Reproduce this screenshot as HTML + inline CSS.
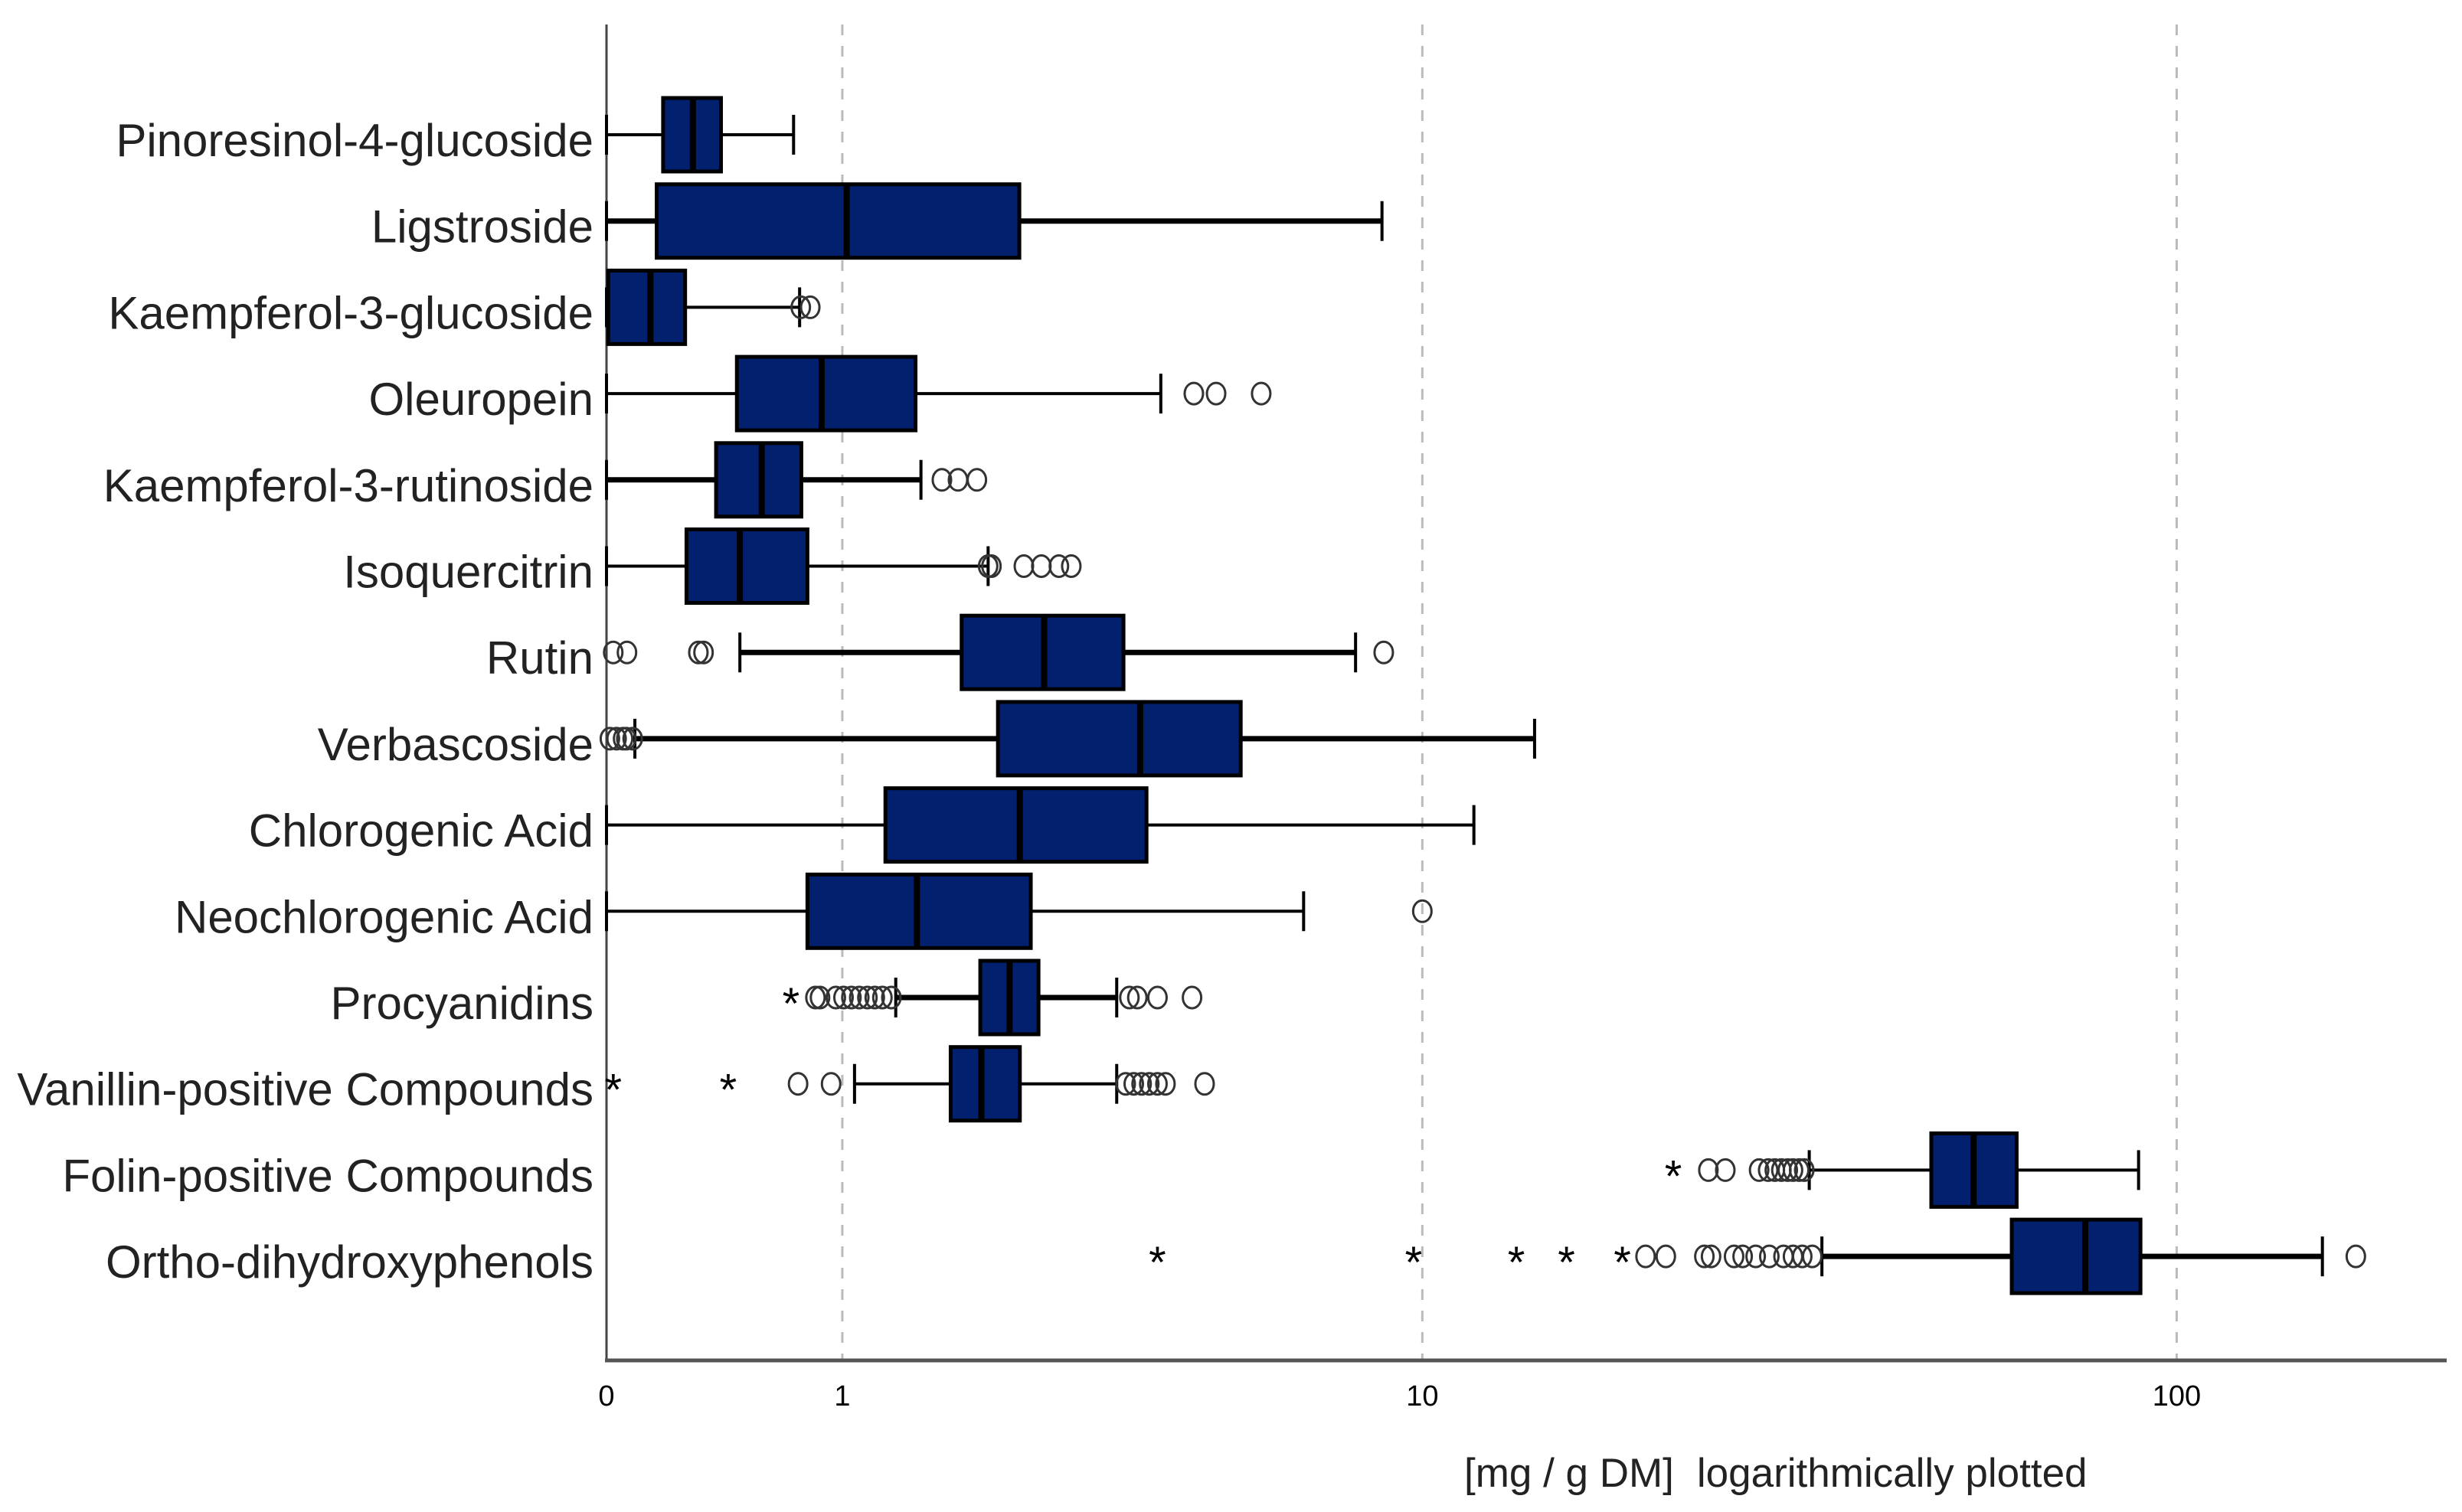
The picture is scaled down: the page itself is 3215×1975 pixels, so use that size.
<!DOCTYPE html>
<html><head><meta charset="utf-8"><style>
html,body{margin:0;padding:0;background:#fff;}
svg{display:block;}
</style></head><body>
<svg id="chart" width="3215" height="1975" viewBox="0 0 3215 1975" xmlns="http://www.w3.org/2000/svg" font-family="Liberation Sans, sans-serif"></svg>
<script>
const categories=["Pinoresinol-4-glucoside","Ligstroside","Kaempferol-3-glucoside","Oleuropein","Kaempferol-3-rutinoside","Isoquercitrin","Rutin","Verbascoside","Chlorogenic Acid","Neochlorogenic Acid","Procyanidins","Vanillin-positive Compounds","Folin-positive Compounds","Ortho-dihydroxyphenols"];
const whiskerLow=[0,0,0,0,0,0,0.48,0.087,0,0,1.34,1.073,33.3,34.6];
const q1=[0.181,0.159,0.005,0.467,0.38,0.265,1.84,2.16,1.27,0.805,2.0,1.75,48.1,61.2];
const median=[0.289,1.026,0.138,0.882,0.578,0.48,2.62,3.8,2.37,1.49,2.27,2.01,54.6,76.2];
const q3=[0.40,2.365,0.26,1.48,0.773,0.805,3.57,5.45,3.89,2.48,2.56,2.37,62.1,89.8];
const whiskerHigh=[0.733,8.77,0.764,4.1,1.52,2.07,8.04,14.3,11.8,6.76,3.48,3.48,89.3,154];
const outliers=[[],[],[0.77,0.82],[4.62,5.0,5.85],[1.68,1.81,1.97],[2.07,2.1,2.41,2.59,2.78,2.92],[0.02,0.062,0.31,0.33,8.82],[0.01,0.03,0.05,0.06,0.08],[],[10],[0.848,0.873,0.962,1.007,1.054,1.102,1.153,1.2,1.25,1.31,3.65,3.76,4.05,4.59],[0.756,0.935,3.6,3.71,3.82,3.93,4.05,4.17,4.8],[24.5,25.8,28.6,29.4,30.0,30.6,31.2,31.7,32.3,32.8],[20.2,21.5,24.2,24.7,26.5,27.2,28.3,29.5,30.8,31.7,32.6,33.6,170]];
const extremes=[[],[],[],[],[],[],[],[],[],[],[0.72],[0.02,0.43],[22.0],[4.05,9.72,13.5,15.8,18.8]];
const thick=[false,true,false,false,true,false,true,true,false,false,true,false,false,true];
const tickValues=[0,1,10,100];
const tickLabels=["0","1","10","100"];

const NS="http://www.w3.org/2000/svg";
const svg=document.getElementById('chart');
const X0=792,K=1023,TOP=32,BOT=1777,RIGHT=3195,ROW0=176,ROWSTEP=112.7,BOXH=96;
function xs(v){return X0+K*Math.log10(v+1);}
function ys(i){return ROW0+i*ROWSTEP;}
function mk(tag,attrs,parent){const e=document.createElementNS(NS,tag);for(const k in attrs)e.setAttribute(k,attrs[k]);(parent||svg).appendChild(e);return e;}

tickValues.forEach((v,i)=>{
  if(v>0){
    const g=mk('line',{x1:xs(v),x2:xs(v),y1:TOP,y2:BOT,stroke:'#bbb','stroke-width':3,'stroke-dasharray':'14 14'});
    
    
  }
  const t=mk('text',{x:xs(v),y:1836,'font-size':38,'text-anchor':'middle',fill:'#000'});
  t.textContent=tickLabels[i];
  
  
});

const ya=mk('line',{x1:X0,x2:X0,y1:TOP,y2:BOT,stroke:'#444','stroke-width':3});


const xa=mk('line',{x1:X0-2,x2:RIGHT,y1:BOT,y2:BOT,stroke:'#555','stroke-width':5});



categories.forEach((c,i)=>{
  const y=ys(i);
  const g=mk('g',{});
  
  
  const lab=mk('text',{x:775,y:y+28,'font-size':60,'text-anchor':'end',fill:'#222'},g);
  lab.textContent=c;
  
  
  const sw=thick[i]?7:4;
  const w=mk('line',{x1:xs(whiskerLow[i]),x2:xs(whiskerHigh[i]),y1:y,y2:y,stroke:'#000','stroke-width':sw},g);
  
  
  [whiskerLow[i],whiskerHigh[i]].forEach(v=>{
    const cap=mk('line',{x1:xs(v),x2:xs(v),y1:y-26,y2:y+26,stroke:'#000','stroke-width':4},g);
    
    
  });
  const r=mk('rect',{x:xs(q1[i]),y:y-BOXH/2,width:xs(q3[i])-xs(q1[i]),height:BOXH,fill:'#03206f',stroke:'#000','stroke-width':5},g);
  
  
  const m=mk('line',{x1:xs(median[i]),x2:xs(median[i]),y1:y-BOXH/2,y2:y+BOXH/2,stroke:'#000','stroke-width':8},g);
  
  
  outliers[i].forEach(v=>{
    const o=mk('ellipse',{cx:xs(v),cy:y,rx:12,ry:14,fill:'none',stroke:'#333','stroke-width':3},g);
    
    
  });
  extremes[i].forEach(v=>{
    const s=mk('text',{x:xs(v),y:y+28,'font-size':58,'text-anchor':'middle',fill:'#000'},g);
    s.textContent='*';
    
    
  });
});

const title=mk('text',{x:1912,y:1942,'font-size':53,fill:'#222'});


title.innerHTML='<tspan>[mg / g DM]</tspan><tspan dx="30">logarithmically plotted</tspan>';
</script>
</body></html>
